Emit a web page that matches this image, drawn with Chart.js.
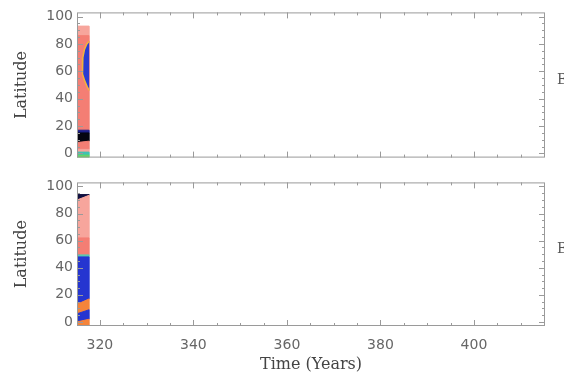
<!DOCTYPE html>
<html>
<head>
<meta charset="utf-8">
<script src="https://cdn.jsdelivr.net/npm/chart.js@4/dist/chart.umd.min.js"></script>
<style>
  body { margin: 0; background: #fff; }
  .panel { position: absolute; left: 0; width: 564px; }
  #topWrap { top: 0; height: 170px; }
  #botWrap { top: 170px; height: 204px; }
</style>
</head>
<body>
<div class="panel" id="topWrap"><canvas id="topChart"></canvas></div>
<div class="panel" id="botWrap"><canvas id="botChart"></canvas></div>
<script>
// axis ranges and tick labels
const xMin = 315.1, xMax = 415.2;
const yMin = -3, yMax = 103;
const xTicks = [320, 340, 360, 380, 400];
const yTicks = [0, 20, 40, 60, 80, 100];

// time span covered by the data strip
const stripTimes = [315.1, 317.7];

// top panel: latitude boundaries at the strip's left / right edge, with band colours
const topLeftBounds  = [-3, -1.2, 1, 3, 8, 15, 17, 86, 93];
const topRightBounds = [-3, -1.2, 1, 3, 9, 15, 17, 86, 93];
const topColors = ['#62d462', '#3fc2b2', '#f7a59c', '#f47e74', '#050510', '#1c1f8a', '#f47e74', '#f7a59c'];

// top panel: blue cell outline (time, latitude)
const topBlobT   = [317.7, 317.2, 316.7, 316.35, 316.2, 316.35, 316.75, 317.25, 317.7];
const topBlobLat = [82, 80, 76, 70, 64, 58, 53, 49, 46];

// bottom panel
const botLeftBounds  = [-3, 0, 6, 13, 48, 49.5, 62, 90, 94];
const botRightBounds = [-3, 2, 9, 17, 48, 49.5, 62, 93.5, 94];
const botColors = ['#f5843a', '#2535d0', '#f5843a', '#2535d0', '#58c8b0', '#f47e74', '#f7a59c', '#101040'];

function bandSets(leftB, rightB, colors) {
  const sets = [];
  for (let i = 0; i < colors.length; i++) {
    sets.push({
      data: [
        {x: stripTimes[0], y: leftB[i]},
        {x: stripTimes[1], y: rightB[i]},
        {x: stripTimes[1], y: rightB[i + 1]},
        {x: stripTimes[0], y: leftB[i + 1]}
      ],
      backgroundColor: colors[i],
      borderColor: colors[i],
      borderWidth: 1,
      fill: 'shape',
      order: 2
    });
  }
  return sets;
}

// inner tick marks, frame and the side label
const framePlugin = {
  id: 'frame',
  afterDraw(chart) {
    const {ctx, chartArea: a, scales} = chart;
    ctx.save();
    ctx.strokeStyle = '#9a9a9a';
    ctx.lineWidth = 1;
    ctx.strokeRect(a.left + 0.5, a.top + 0.5, a.right - a.left - 1, a.bottom - a.top - 1);
    ctx.beginPath();
    for (let v = 315; v <= 415; v += 5) {
      const px = Math.round(scales.x.getPixelForValue(v)) + 0.5;
      if (px <= a.left + 1 || px >= a.right - 1) continue;
      const len = v % 20 === 0 ? 6 : 3;
      ctx.moveTo(px, a.bottom); ctx.lineTo(px, a.bottom - len);
      ctx.moveTo(px, a.top); ctx.lineTo(px, a.top + len);
    }
    for (let v = 0; v <= 100; v += 5) {
      const py = Math.round(scales.y.getPixelForValue(v)) + 0.5;
      const len = v % 20 === 0 ? 6 : 3;
      ctx.moveTo(a.left, py); ctx.lineTo(a.left + len, py);
      ctx.moveTo(a.right, py); ctx.lineTo(a.right - len, py);
    }
    ctx.stroke();
    ctx.fillStyle = '#555';
    ctx.font = '14px "DejaVu Serif"';
    ctx.textBaseline = 'middle';
    ctx.fillText('B', a.right + 12, (a.top + a.bottom) / 2 - 5);
    ctx.restore();
  }
};

function makeChart(id, sets, isBottom) {
  return new Chart(document.getElementById(id), {
    type: 'line',
    data: {datasets: sets},
    options: {
      responsive: true,
      maintainAspectRatio: false,
      animation: false,
      events: [],
      layout: {padding: {top: isBottom ? 7 : 11, right: 19, left: 0, bottom: 0}},
      elements: {point: {radius: 0}, line: {tension: 0}},
      plugins: {legend: {display: false}, tooltip: {enabled: false}},
      scales: {
        x: {
          type: 'linear', min: xMin, max: xMax,
          grid: {display: false, drawTicks: false},
          border: {display: false},
          afterBuildTicks: s => { s.ticks = xTicks.map(v => ({value: v})); },
          afterFit: s => { s.height = isBottom ? 48 : 10; },
          ticks: {
            display: isBottom, padding: 11, color: '#666',
            font: {family: 'DejaVu Sans', size: 14}
          },
          title: {
            display: isBottom, text: 'Time (Years)', color: '#444',
            font: {family: 'DejaVu Serif', size: 16, lineHeight: 1},
            padding: {top: 0, bottom: 1}
          }
        },
        y: {
          min: yMin, max: yMax,
          grid: {display: false, drawTicks: false},
          border: {display: false},
          afterBuildTicks: s => { s.ticks = yTicks.map(v => ({value: v})); },
          afterFit: s => { s.width = 77; },
          ticks: {padding: 4, color: '#666', font: {family: 'DejaVu Sans', size: 14}},
          title: {
            display: true, text: 'Latitude', color: '#444',
            font: {family: 'DejaVu Serif', size: 16, lineHeight: 1.2},
            padding: {top: 12, bottom: 0}
          }
        }
      }
    },
    plugins: [framePlugin]
  });
}

const topSets = bandSets(topLeftBounds, topRightBounds, topColors);
topSets.push({
  data: topBlobT.map((t, i) => ({x: t, y: topBlobLat[i]})),
  backgroundColor: '#2a3bd2',
  borderColor: '#f2b23a',
  borderWidth: 1.5,
  fill: 'shape',
  order: 1
});

makeChart('topChart', topSets, false);
makeChart('botChart', bandSets(botLeftBounds, botRightBounds, botColors), true);
</script>
</body>
</html>
